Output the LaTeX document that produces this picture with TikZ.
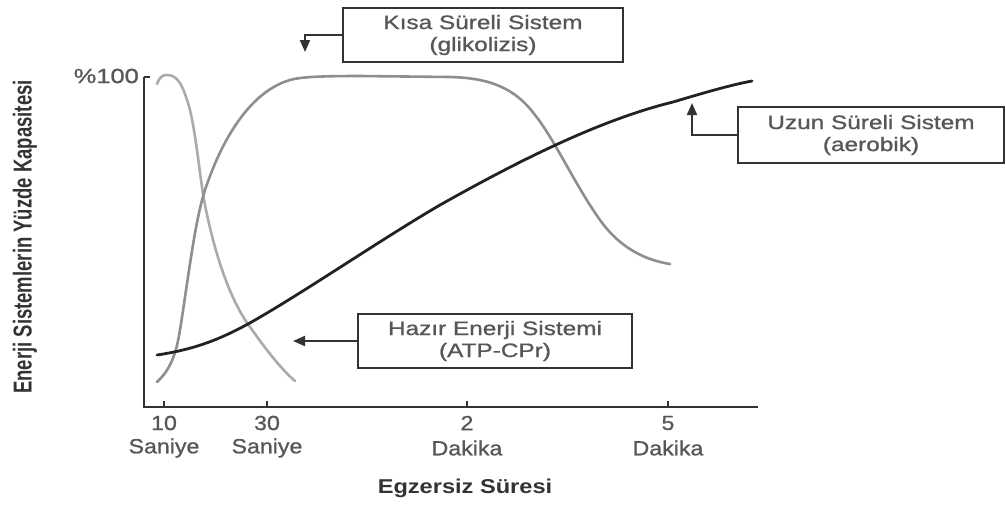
\documentclass[tikz,border=0pt]{standalone}
\usepackage{fontspec}
\usepackage{graphicx}
\setmainfont{Liberation Sans}
\newfontfamily\lblfont{Liberation Sans}[FakeBold=0.9]
\usetikzlibrary{arrows.meta}
\definecolor{axisc}{HTML}{333333}
\definecolor{txtc}{HTML}{575757}
\definecolor{atpc}{HTML}{ABABAB}
\definecolor{glyc}{HTML}{8E8E8E}
\definecolor{aerc}{HTML}{222222}
\newcommand{\hs}[2]{\scalebox{#1}[1]{#2}}
\tikzset{
  lbox/.style={draw=axisc, line width=2pt, minimum width=#1, minimum height=54pt, inner sep=0pt, text=txtc, align=center, font=\lblfont\fontsize{19.5}{22}\selectfont},
  lbox/.default=270pt,
  conn/.style={draw=axisc, line width=2pt, -{Triangle[length=12pt,width=10pt]}},
  axisline/.style={draw=axisc, line width=2.5pt},
  curve/.style={line width=2.6pt, line cap=round},
  ticklab/.style={text=txtc, font=\lblfont\fontsize{20.5}{20.5}\selectfont, inner sep=0pt},
}
\begin{document}
\begin{tikzpicture}[x=1pt,y=-1pt]
\useasboundingbox (0,0) rectangle (1006,504);
% axes
\coordinate (o) at (144,407);
\coordinate (ytop) at (144,77);
\coordinate (xend) at (758,407);
\draw[axisline] (ytop) -- (o) -- (xend);
\draw[axisline, line width=2pt] (ytop) -- ++(6,0);
\foreach \x in {164,267,467,668} \draw[axisline, line width=2pt] (\x,407) -- (\x,401);
% axis labels
\node[ticklab, anchor=east] (p100) at (139,76) {\hs{1.24}{\%100}};
\node[ticklab] (t10) at (164,423) {\hs{1.13}{10}};
\node[ticklab] (t30) at (267,423) {\hs{1.13}{30}};
\node[ticklab] (t2) at (467,423) {\hs{1.13}{2}};
\node[ticklab] (t5) at (668,423) {\hs{1.13}{5}};
\node[ticklab] (s10) at (164,448) {\hs{1.13}{Saniye}};
\node[ticklab] (s30) at (267,448) {\hs{1.13}{Saniye}};
\node[ticklab] (d2) at (467,448) {\hs{1.13}{Dakika}};
\node[ticklab] (d5) at (668,448) {\hs{1.13}{Dakika}};
\node[inner sep=0pt, text=axisc, font=\bfseries\fontsize{20}{20}\selectfont] (xlab) at (465,488) {\hs{1.18}{Egzersiz Süresi}};
\node[inner sep=0pt, text=axisc, font=\bfseries\fontsize{18.5}{18.5}\selectfont] (ylab) at (25,237) {\hs{1.4}{\rotatebox{90}{Enerji Sistemlerin Yüzde Kapasitesi}}};
% curves
\draw[curve, atpc] (157,84) .. controls (160,76) and (163,75) .. (167,75)
  .. controls (178,75) and (183,85) .. (190,110)
  .. controls (197,140) and (200,180) .. (205,205)
  .. controls (215,255) and (230,300) .. (250,327)
  .. controls (265,348) and (280,368) .. (295,381);
\draw[curve, glyc] (157,382) .. controls (170,370) and (176,355) .. (180,330)
  .. controls (188,280) and (195,220) .. (205,190)
  .. controls (225,130) and (255,90) .. (290,80)
  .. controls (300,77) and (320,76) .. (360,76)
  -- (450,77)
  .. controls (490,78) and (515,88) .. (535,115)
  .. controls (555,140) and (575,185) .. (600,220)
  .. controls (620,248) and (645,260) .. (670,264);
\draw[curve, aerc, line width=2.8pt] (157,355) .. controls (190,350) and (215,342) .. (248,324)
  .. controls (300,295) and (380,240) .. (440,205)
  .. controls (520,160) and (600,120) .. (673,102)
  .. controls (700,94) and (730,85) .. (752,81);
% label boxes
\node[lbox=280pt] (kisa) at (483,35) {\hs{1.25}{Kısa Süreli Sistem}\\\hs{1.25}{(glikolizis)}};
\node[lbox=274pt] (hazir) at (495,341) {\hs{1.25}{Hazır Enerji Sistemi}\\\hs{1.25}{(ATP-CPr)}};
\node[lbox=266pt, minimum height=56pt] (uzun) at (871,135) {\hs{1.25}{Uzun Süreli Sistem}\\\hs{1.25}{(aerobik)}};
% connectors
\coordinate (kisatip) at (305,52);
\coordinate (hazirtip) at (293,341);
\coordinate (uzuntip) at (692,103);
\draw[conn] (kisa.west) -| (kisatip);
\draw[conn] (hazir.west) -- (hazirtip);
\draw[conn] (uzun.west) -| (uzuntip);
\end{tikzpicture}
\end{document}
